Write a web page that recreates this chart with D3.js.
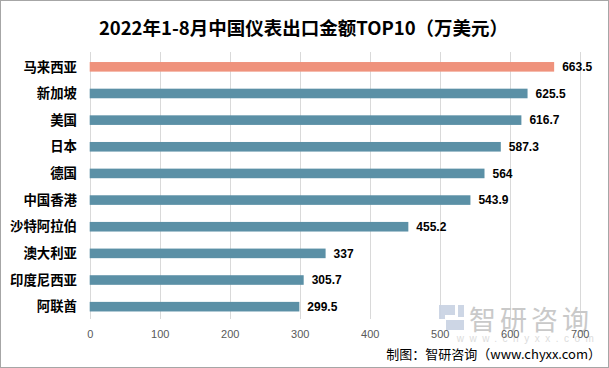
<!DOCTYPE html>
<html><head><meta charset="utf-8">
<script src="https://cdn.jsdelivr.net/npm/d3@7"></script>
<style>body{margin:0;background:#fff}svg{display:block}</style>
</head><body>
<script>
const categories = ["马来西亚","新加坡","美国","日本","德国","中国香港","沙特阿拉伯","澳大利亚","印度尼西亚","阿联酋"];
const values = [663.5,625.5,616.7,587.3,564,543.9,455.2,337,305.7,299.5];
const tickValues = [0,100,200,300,400,500,600,700];
const title = "2022年1-8月中国仪表出口金额TOP10（万美元）";
const source = "制图：智研咨询（www.chyxx.com）";

const W=609,H=368;
const svg=d3.select("body").append("svg").attr("width",W).attr("height",H);
svg.append("rect").attr("x",0.5).attr("y",0.5).attr("width",W-1).attr("height",H-1).attr("fill","#fff").attr("stroke","#a6a6a6");

const x=d3.scaleLinear().domain([0,700]).range([89.7,579.7]);
const y=d3.scaleBand().domain(categories).range([53.5,320]).paddingInner(0.64).paddingOuter(0.32);

svg.append("text").attr("x",W/2-1).attr("y",35).attr("text-anchor","middle")
 .attr("font-family","'Noto Sans CJK SC',sans-serif").attr("font-weight","bold").attr("font-size",18.5).attr("fill","#000").text(title);

// gridlines
svg.append("g").selectAll("line").data(tickValues).join("line")
 .attr("x1",d=>Math.round(x(d))+0.5).attr("x2",d=>Math.round(x(d))+0.5).attr("y1",52).attr("y2",319)
 .attr("stroke","#d9d9d9").attr("stroke-width",1);

// watermark
const wm=svg.append("g");
wm.append("text").attr("x",531).attr("y",330).attr("text-anchor","middle")
 .attr("font-family","'Noto Sans CJK SC',sans-serif").attr("font-size",27).attr("fill","#c9c9c9").attr("letter-spacing",4).text("智研咨询");
wm.append("text").attr("x",528).attr("y",342).attr("text-anchor","middle")
 .attr("font-family","Arial,sans-serif").attr("font-size",10).attr("fill","#dcdcdc").attr("letter-spacing",5.5).text("www.chyxx.com");
wm.append("path").attr("d","M439,305 h16 v10 h-10 v4 h-6 z M446,320 h18 v10 h-18 z M458,305 h6 v12 h-6 z")
 .attr("fill","#c8d2e2").attr("opacity",0.9);

// axis
const ax=svg.append("g").attr("transform","translate(0,326)")
 .call(d3.axisBottom(x).tickValues(tickValues).tickSize(0).tickPadding(4));
ax.select(".domain").remove();
ax.selectAll("text").attr("font-family","'Liberation Sans',Arial,sans-serif").attr("font-size",11).attr("fill","#595959");

// bars
svg.append("g").selectAll("rect").data(values).join("rect")
 .attr("x",x(0)).attr("y",(d,i)=>y(categories[i])).attr("height",y.bandwidth())
 .attr("width",d=>x(d)-x(0)).attr("fill",(d,i)=>i===0?"#EF927C":"#5B90A6");

// value labels
svg.append("g").selectAll("text").data(values).join("text")
 .attr("x",d=>x(d)+8).attr("y",(d,i)=>y(categories[i])+y.bandwidth()/2).attr("dy","0.35em")
 .attr("font-family","'Liberation Sans',Arial,sans-serif").attr("font-weight","bold").attr("font-size",12).attr("fill","#000")
 .text(d=>d);

// category labels
svg.append("g").selectAll("text").data(categories).join("text")
 .attr("x",77).attr("y",d=>y(d)+y.bandwidth()/2).attr("dy","0.35em").attr("text-anchor","end")
 .attr("font-family","'Noto Sans CJK SC',sans-serif").attr("font-weight","bold").attr("font-size",13.4).attr("fill","#000")
 .text(d=>d);

svg.append("text").attr("x",601).attr("y",359).attr("text-anchor","end")
 .attr("font-family","'Noto Sans CJK SC',sans-serif").attr("font-size",13).attr("fill","#000").text(source);
</script>
</body></html>
